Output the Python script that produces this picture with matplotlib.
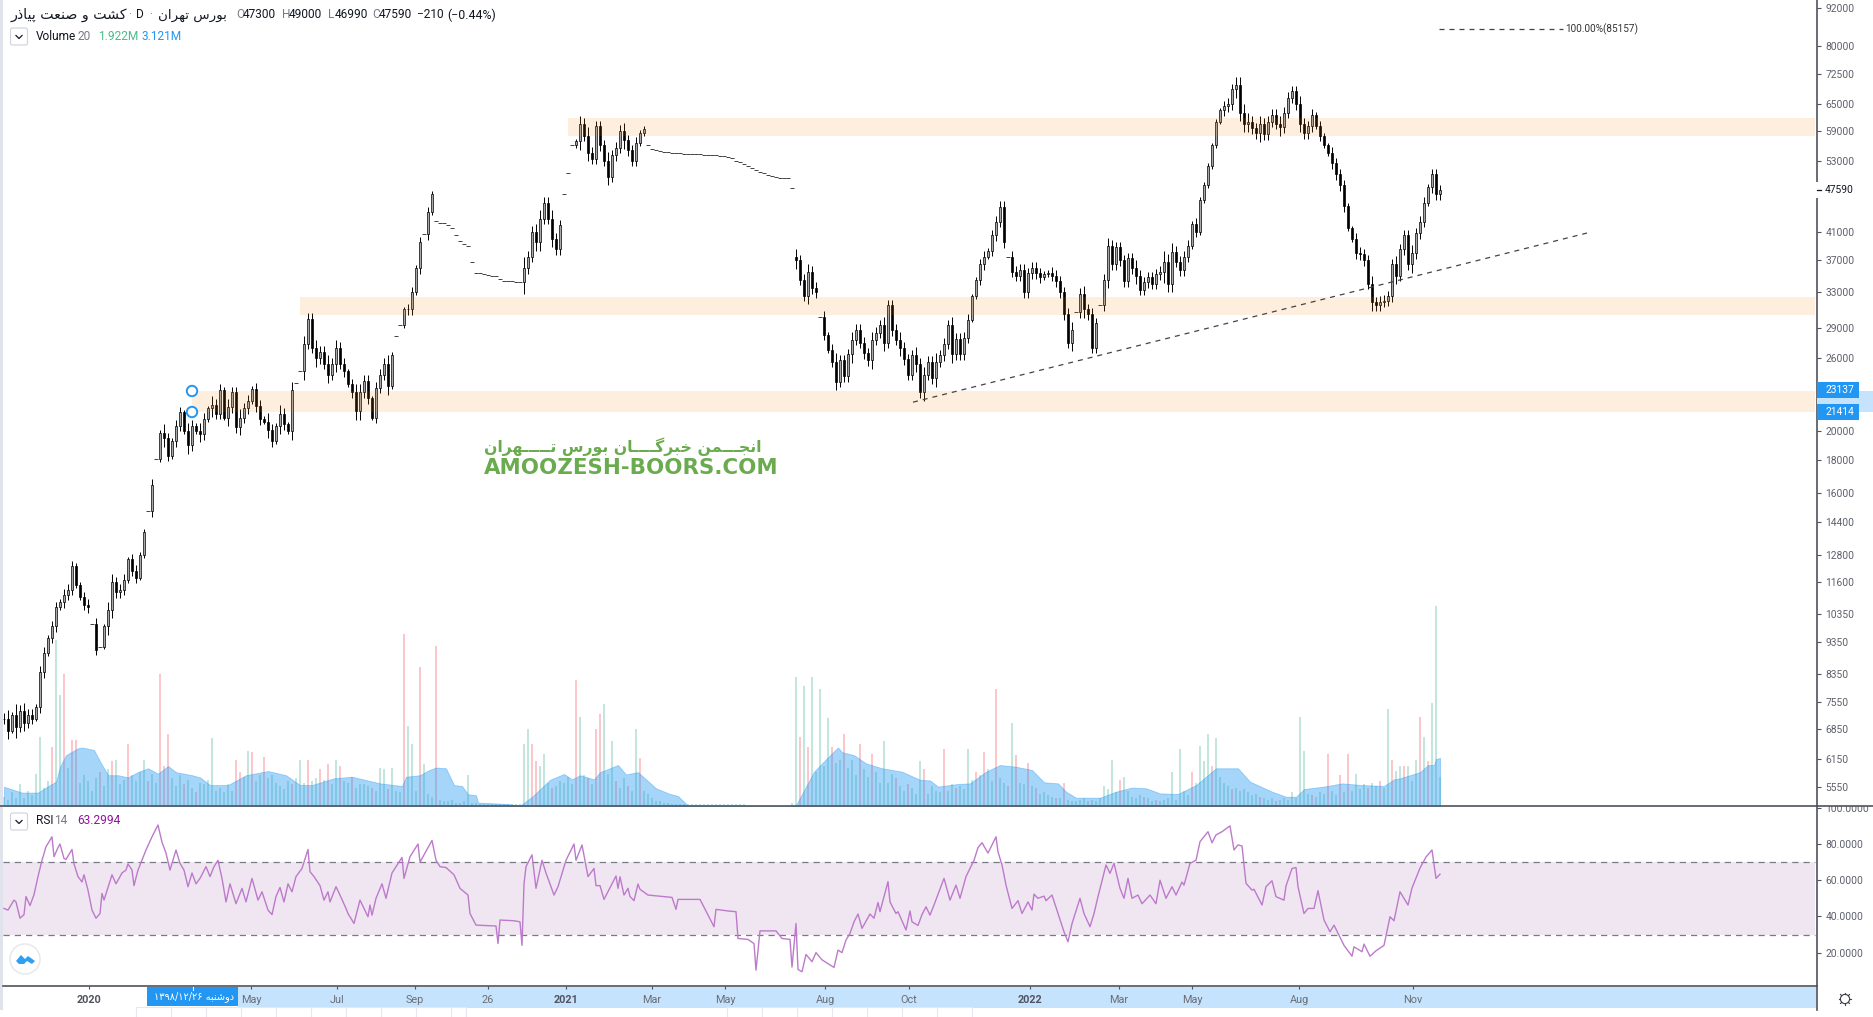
import matplotlib
matplotlib.use("Agg")
import matplotlib.pyplot as plt
import numpy as np
from matplotlib.lines import Line2D
from matplotlib.patches import Circle, FancyBboxPatch, Polygon, Rectangle
from matplotlib.ticker import NullLocator
from matplotlib.transforms import Affine2D

W, H = 1873, 1017
plt.rcParams["font.family"] = ["Roboto", "DejaVu Sans"]

# one candle every second session, the chart is too dense to read each one
closes = [
    7100, 6800, 7200, 6900, 7300, 7000, 7200, 7100, 7400, 8400,
    9000, 9500, 9900, 10600, 10800, 11100, 11300, 12300, 11500, 11000,
    10700, 10600, 10000, 9100, 9200, 9900, 10500, 11600, 11200, 11300,
    11700, 12600, 12100, 11800, 12800, 13900, 15000, 16500, 18100, 19900,
    19500, 18300, 19300, 20400, 21400, 20000, 19000, 20400, 20000, 19800,
    20900, 21700, 22000, 21300, 23200, 21000, 21800, 23000, 20300, 21000,
    21700, 22300, 23300, 21900, 20900, 20700, 20100, 19300, 20400, 21300,
    20500, 20000, 23200, 23800, 24800, 27400, 30000, 27000, 26000, 26600,
    25500, 24500, 25500, 27000, 25500, 24800, 23700, 23000, 21500, 23000,
    24000, 22500, 21000, 23400, 24500, 25500, 23500, 26300, 28200, 29300,
    31000, 31000, 33000, 36000, 39500, 40700, 44000, 47000, 42700, 42400,
    42300, 42000, 41500, 40600, 39700, 39300, 39000, 36800, 35400, 35300,
    35200, 35100, 35000, 35000, 34600, 34400, 34300, 34300, 34200, 34200,
    36000, 37500, 41000, 39500, 43000, 45500, 43000, 40000, 38500, 42000,
    47000, 50600, 56000, 56800, 60500, 58000, 54500, 53400, 60000, 56000,
    53000, 50000, 54000, 55500, 59000, 57000, 55000, 53000, 56500, 58500,
    59400, 56000, 55200, 55000, 54900, 54700, 54600, 54500, 54500, 54400,
    54300, 54300, 54200, 54200, 54200, 54100, 54100, 54000, 54000, 53900,
    53800, 53700, 53500, 53000, 52800, 52400, 52000, 51600, 51300, 50900,
    50600, 50300, 50100, 49900, 49800, 49700, 49700, 48000, 37000, 34500,
    32600, 35500, 33500, 33000, 30200, 28300, 26800, 25700, 23900, 25800,
    24400, 26400, 27800, 28800, 27500, 26500, 25800, 27800, 28500, 29300,
    27500, 31500, 28800, 27800, 27000, 25900, 24500, 26300, 25500, 23000,
    24500, 25700, 24200, 25700, 26300, 27400, 29300, 26400, 27900, 26400,
    28000, 29900, 32500, 34500, 36500, 37500, 38300, 40500, 42500, 44900,
    39500, 37500, 35500, 35000, 35800, 33000, 35300, 36000, 35300, 34800,
    35200, 35400, 35000, 34300, 33000, 30500, 27500, 28800, 30700, 32800,
    31000, 30500, 27000, 29500, 31500, 34500, 39000, 36500, 38800, 37000,
    34300, 37300, 36000, 35000, 33300, 34200, 34800, 34000, 35200, 35500,
    36800, 34000, 38200, 36800, 35700, 37500, 39000, 42200, 41000, 46000,
    48500, 52000, 56000, 61000, 63500, 64500, 65000, 68500, 69500, 63000,
    60500, 61000, 59500, 58500, 60500, 58300, 61000, 62500, 60500, 59800,
    63000, 66500, 68000, 65000, 60500, 58500, 60000, 62500, 60000, 58000,
    56000, 54500, 52500, 50500, 48500, 45000, 41500, 40000, 38000, 37800,
    37000, 34000, 31800, 31500, 31900, 32000, 32500, 36500, 35000, 38500,
    40500, 36500, 38000, 40800, 42500, 45500, 48200, 50500, 47000, 47590,
]
# wick length in percent of price, 0 means a single-price day (drawn as a dash)
wick_pct = [
    2, 3, 1, 4, 2, 3, 2, 2, 1, 2,
    2, 1, 2, 2, 1, 2, 2, 2, 1, 1,
    2, 2, 0, 2, 0, 1, 3, 3, 2, 2,
    2, 1, 2, 2, 1, 1, 0, 2, 0, 1,
    3, 2, 1, 2, 2, 1, 3, 2, 1, 3,
    2, 1, 3, 2, 2, 1, 3, 2, 2, 3,
    2, 2, 1, 2, 2, 1, 3, 2, 1, 3,
    2, 1, 3, 0, 0, 3, 2, 2, 3, 2,
    2, 3, 2, 3, 2, 2, 1, 2, 3, 3,
    2, 2, 1, 2, 2, 2, 3, 1, 0, 0,
    1, 2, 2, 1, 2, 0, 2, 1, 0, 0,
    0, 0, 0, 0, 0, 0, 0, 0, 0, 0,
    0, 0, 0, 0, 0, 0, 0, 0, 0, 0,
    4, 2, 2, 3, 3, 2, 2, 3, 2, 2,
    0, 0, 0, 1, 3, 2, 3, 2, 2, 2,
    2, 3, 2, 2, 2, 3, 2, 2, 2, 1,
    1, 0, 0, 0, 0, 0, 0, 0, 0, 0,
    0, 0, 0, 0, 0, 0, 0, 0, 0, 0,
    0, 0, 0, 0, 0, 0, 0, 0, 0, 0,
    0, 0, 0, 0, 0, 0, 0, 0, 3, 2,
    2, 3, 2, 2, 0, 2, 1, 2, 3, 2,
    2, 2, 3, 2, 2, 2, 2, 3, 2, 2,
    3, 2, 2, 2, 3, 2, 2, 2, 3, 2,
    3, 2, 2, 3, 2, 2, 2, 3, 2, 2,
    2, 2, 1, 1, 2, 2, 1, 2, 2, 2,
    2, 0, 2, 2, 2, 2, 2, 2, 2, 2,
    1, 1, 2, 2, 2, 2, 2, 3, 0, 2,
    3, 2, 2, 2, 0, 2, 3, 2, 2, 2,
    2, 2, 2, 3, 2, 2, 2, 2, 2, 2,
    4, 3, 3, 2, 2, 2, 2, 1, 2, 1,
    1, 1, 1, 1, 1, 2, 2, 2, 3, 3,
    3, 3, 2, 2, 3, 2, 2, 2, 2, 3,
    2, 2, 2, 2, 3, 2, 2, 2, 1, 2,
    1, 1, 2, 2, 2, 2, 1, 1, 2, 2,
    2, 2, 3, 2, 2, 2, 2, 2, 3, 2,
    2, 2, 3, 2, 2, 2, 1, 2, 2, 2,
]
gap_opens = {198: 37400}

# volume in millions, same sessions as the candles
volumes = [
    0.6, 0.4, 0.9, 0.5, 1.4, 0.5, 1.0, 0.7, 2.1, 4.5,
    1.2, 1.6, 3.8, 10.8, 7.2, 8.6, 2.5, 4.3, 4.3, 1.5,
    2.0, 1.6, 1.0, 1.8, 2.2, 1.3, 2.4, 2.9, 3.0, 1.4,
    1.7, 4.0, 2.0, 1.6, 2.2, 3.0, 1.6, 2.1, 1.5, 8.6,
    2.6, 4.7, 1.8, 1.3, 2.0, 1.4, 1.7, 1.2, 0.9, 1.5,
    1.4, 1.7, 4.4, 1.0, 1.2, 0.9, 1.4, 1.0, 3.0, 2.2,
    1.9, 3.6, 3.5, 1.6, 2.0, 3.2, 1.8, 2.0, 1.5, 1.3,
    1.1, 1.6, 1.4, 1.8, 3.0, 1.5, 3.0, 1.6, 1.8, 2.4,
    1.7, 2.7, 1.4, 3.0, 2.6, 1.6, 1.5, 1.9, 1.2, 1.4,
    1.4, 1.3, 1.2, 1.0, 2.5, 2.4, 1.1, 2.5, 1.0, 0.9,
    11.2, 5.2, 4.0, 1.0, 9.0, 2.7, 0.8, 0.6, 10.4, 0.4,
    0.3, 0.3, 0.4, 0.2, 0.2, 0.3, 2.0, 0.2, 0.2, 0.1,
    0.1, 0.1, 0.1, 0.1, 0.1, 0.1, 0.1, 0.1, 0.1, 0.1,
    4.0, 5.0, 4.0, 2.9, 2.6, 3.4, 1.5, 1.2, 1.3, 1.6,
    1.5, 1.9, 1.4, 8.2, 5.8, 2.0, 1.8, 1.4, 5.0, 6.0,
    6.6, 2.1, 4.2, 1.6, 1.2, 1.8, 1.3, 1.0, 5.0, 3.1,
    1.0, 0.8, 0.5, 0.3, 0.3, 0.2, 0.2, 0.1, 0.1, 0.1,
    0.1, 0.1, 0.1, 0.1, 0.1, 0.1, 0.1, 0.1, 0.1, 0.1,
    0.1, 0.1, 0.1, 0.1, 0.1, 0.1, 0.0, 0.0, 0.0, 0.0,
    0.0, 0.0, 0.0, 0.0, 0.0, 0.0, 0.0, 0.2, 8.4, 4.5,
    7.8, 3.8, 8.4, 2.2, 7.6, 2.6, 5.7, 3.8, 2.8, 3.0,
    4.7, 2.5, 3.0, 2.0, 4.0, 2.4, 1.9, 3.4, 2.2, 1.5,
    4.2, 1.5, 2.1, 1.8, 1.3, 1.0, 1.4, 1.2, 0.8, 2.9,
    2.4, 0.8, 1.3, 1.0, 0.9, 3.7, 1.0, 1.4, 1.2, 1.3,
    1.1, 3.7, 1.7, 2.2, 2.0, 3.5, 2.4, 1.6, 7.6, 1.8,
    1.5, 1.3, 5.4, 3.3, 1.5, 1.4, 2.8, 1.3, 1.2, 0.8,
    0.9, 0.7, 0.6, 0.5, 0.5, 1.5, 0.4, 0.3, 0.3, 0.4,
    0.5, 0.3, 0.4, 0.3, 0.5, 1.3, 1.1, 3.0, 0.9, 1.7,
    1.9, 1.0, 0.6, 0.5, 0.7, 0.6, 0.5, 0.3, 0.4, 0.3,
    0.4, 0.5, 2.2, 0.4, 3.7, 1.0, 0.7, 2.2, 1.5, 3.9,
    2.9, 4.7, 2.6, 4.4, 1.9, 1.5, 1.3, 1.1, 1.2, 1.0,
    1.1, 0.9, 0.7, 0.8, 0.6, 0.5, 0.4, 0.5, 0.3, 0.4,
    0.5, 0.4, 0.9, 0.5, 5.8, 3.6, 0.8, 0.7, 0.6, 0.9,
    0.8, 3.4, 1.0, 0.7, 2.0, 0.9, 3.4, 1.0, 2.1, 1.1,
    1.4, 1.2, 1.5, 1.3, 1.6, 1.2, 6.3, 3.0, 2.3, 2.6,
    2.6, 2.6, 1.6, 3.0, 5.8, 4.5, 2.9, 6.7, 13.0, 1.9,
]
red_volume_bars = [
    12, 15, 17, 18, 24, 27, 31, 36, 39, 40, 41, 45, 48, 58, 59, 62, 65, 72, 76,
    79, 81, 84, 87, 92, 96, 100, 104, 108, 132, 133, 137, 143, 146, 148, 149,
    153, 156, 159, 199, 201, 207, 210, 214, 217, 223, 226, 230, 235, 238, 243,
    245, 248, 251, 253, 256, 258, 263, 265, 271, 279, 285, 288, 297, 302, 307,
    314, 318, 327, 331, 334, 336, 341, 344, 347, 350, 354, 356,
]

ma_sessions = [
    2, 11, 19, 25, 28, 30, 33, 39, 41, 47, 50, 54, 59, 64, 69, 74, 79, 84, 88,
    96, 100, 105, 114, 123, 134, 143, 150, 156, 167, 176, 190, 201, 203, 210,
    214, 218, 223, 227, 231, 234, 238, 239, 254, 260, 266, 275, 282, 286, 290,
    297, 300, 309, 313, 319, 328, 335, 339, 344, 395, 398, 403, 407, 415, 419,
    421, 427, 433, 441, 451, 460, 465, 469, 479, 485, 493, 500, 508, 516, 522,
    529, 533, 538, 550, 558, 566, 573, 580, 589, 598, 608, 619, 625, 636, 643,
    648, 652, 662, 671, 681, 692, 697, 700, 710, 714, 717, 718, 720,
]
ma_values = [
    1.25, 0.87, 0.87, 1.36, 1.58, 2.55, 3.3, 3.75, 3.8, 3.64, 2.9, 2.0, 2.0, 1.86, 2.2, 2.45, 2.1, 2.6, 2.2,
    2.0, 1.86, 1.36, 1.36, 2.0, 2.27, 2.0, 1.36, 1.36, 1.8, 1.9, 1.47, 1.3, 1.9, 2.0,
    2.3, 2.5, 2.45, 1.36, 1.3, 0.76, 0.7, 0.22, 0.13, 0.02, 0.6, 1.7, 2.08, 1.73, 2.0,
    1.73, 2.2, 2.66, 2.05, 2.2, 1.15, 0.78, 0.65, 0.02, 0.0, 0.06, 1.26, 2.23, 3.3, 3.8,
    3.5, 3.3, 2.77, 2.45, 2.23, 1.7, 1.66, 1.26, 1.43, 1.47, 2.23, 2.66, 2.55, 2.34, 1.54,
    1.47, 0.93, 0.54, 0.54, 0.93, 1.2, 1.15, 0.82, 0.78, 1.36, 2.45, 2.45, 1.58, 0.93, 0.6,
    0.6, 1.1, 1.26, 1.47, 1.36, 1.3, 1.73, 1.8, 2.2, 2.66, 2.66, 3.05, 3.12,
]

rsi_sessions = [
    2, 4, 7, 8, 10, 12, 13, 15, 17, 19, 21, 23, 26, 27, 29, 30, 32, 33, 36, 37, 39, 41, 42, 44, 46, 48, 50, 51, 52, 54,
    56, 58, 61, 63, 64, 66, 67, 69, 73, 76, 79, 81, 83, 85, 88, 90, 92, 94, 96, 98, 100, 103, 105, 107, 109, 111, 113,
    115, 118, 121, 123, 126, 129, 131, 134, 136, 138, 140, 142, 144, 146, 148, 151, 154, 155, 157, 160, 162, 164, 165,
    168, 170, 173, 174, 177, 180, 182, 184, 185, 186, 188, 191, 193, 196, 201, 202, 205, 209, 210, 216, 218, 220, 223,
    227, 230, 234, 235, 238, 248, 249, 250, 257, 260, 261, 262, 263, 266, 268, 271, 273, 277, 279, 283, 287, 288, 291,
    294, 297, 298, 300, 302, 308, 309, 310, 312, 314, 315, 317, 319, 320, 324, 336, 338, 339, 350,
    357, 358, 364, 368, 369, 374, 377, 378, 380, 388, 391, 395, 396, 398, 399, 401, 403, 406, 408, 411, 417, 419, 421,
    423, 425, 427, 429, 431, 435, 437, 439, 440, 444, 445, 448, 449, 453, 455, 456, 459, 461, 463, 465, 467, 472, 475,
    478, 480, 483, 487, 489, 491, 494, 498, 499, 501, 503, 506, 509, 511, 514, 516, 517, 519, 522, 523, 526, 529, 532,
    534, 536, 540, 542, 545, 547, 549, 553, 555, 557, 560, 562, 564, 566, 569, 571, 575, 578, 580, 583, 586, 588, 591,
    592, 595, 598, 600, 604, 606, 608, 611, 615, 617, 619, 621, 623, 626, 627, 631, 633, 636, 638, 642, 643, 646, 648,
    649, 652, 654, 657, 659, 662, 665, 667, 672, 676, 677, 681, 682, 685, 688, 692, 695, 697, 700, 704, 706, 710, 713,
    716, 718, 720,
]
rsi_values = [
    44.4, 43.5, 49, 48, 39, 41, 51, 46, 52, 62, 71, 78.5, 84, 73, 78, 80, 72, 71.5, 77, 69, 62, 59, 63, 54.5, 43.5, 39, 41.6, 52.7, 49, 56,
    63, 58, 64, 65.6, 69, 65.6, 57, 65.6, 76.7, 84, 90.5, 81, 75, 65.6, 76.7, 69.3, 65.6, 56.4, 64, 58, 61, 67.5, 62, 67.5, 71, 61, 48,
    58, 47, 55.5, 48, 61, 49, 53.6, 43.5, 41, 51, 56, 48, 58, 53.6, 62, 66.5, 77, 64.7, 62, 57, 49, 53.6, 48,
    56.4, 51.8, 44.4, 41.6, 36.1, 49, 44.4, 39.8, 46.3, 40.7, 50, 58, 50, 64, 72.6, 61, 73, 80, 70, 82, 71, 67.5, 67,
    63, 55.5, 51.8, 41.6, 35.2, 34.7, 25, 38, 37.6, 37, 24, 58, 67.5, 74, 55.5, 71, 64, 51.8, 56.4, 71, 80, 71, 79.5,
    62, 66.5, 57, 57, 49.4, 62.3, 55.5, 61.9, 51.8, 55.5, 51, 48.7, 57.9, 55, 51.8, 50.5, 43.9, 49.4, 49.4,
    34.3, 43.9, 43, 42.6, 27.8, 27.3, 25, 10.3, 32, 32, 27.8, 27.3, 12, 36.1, 10.7, 9.4, 19, 15, 20, 16, 11.8, 21.4, 20,
    27, 30.6, 37, 41.3, 33.4, 41.3, 39, 47.7, 42.6, 59.2, 48, 41.6, 42.6, 32.5, 43, 37, 35, 41, 45.3, 40.7, 46.3, 61, 49,
    57.3, 50, 62, 71, 78, 80.7, 75, 84, 75.7, 68.4, 57.3, 44.4, 48.7, 41.6, 48, 43.5, 52.3, 50, 51.2, 48.7, 51.8, 41.6, 31.5,
    26, 36, 50, 41.6, 34.3, 41.6, 50.9, 68.4, 63.8, 69.3, 55.5, 50, 61, 50, 51.8, 47, 51.8, 47, 60, 50, 56.4, 51.8, 59,
    57.3, 69.3, 71, 81.3, 86.8, 80.7, 85, 86.8, 90, 76.7, 79.5, 78.9, 58.3, 54.5, 55, 46.3, 56.4, 59.7, 50.9, 49, 56.8, 66.5, 67,
    56.4, 41.6, 44.4, 44.4, 54.2, 38, 31.5, 35.2, 24, 18, 23.2, 20.5, 24.7, 18, 21, 24, 39.8, 37.6, 53.6, 46.3, 55.7, 66.7, 72.8,
    76.7, 61, 63.3,
]

price_ticks = [92000, 80000, 72500, 65000, 59000, 53000, 41000, 37000, 33000, 29000, 26000, 20000, 18000, 16000,
               14400, 12800, 11600, 10350, 9350, 8350, 7550, 6850, 6150, 5550]
rsi_ticks = [100, 80, 60, 40, 20]
time_ticks = [44.5, 125.5, 168.5, 207.5, 244, 283, 326, 362.5, 412.5, 454.5, 515, 559.5, 596, 649.5, 706.5]
time_labels = ["2020", "May", "Jul", "Sep", "26", "2021", "Mar", "May", "Aug", "Oct", "2022", "Mar", "May", "Aug", "Nov"]

zone_starts = [284, 150, 96]
zone_tops = [61750, 32430, 23137]
zone_bottoms = [57900, 30390, 21414]
trend_sessions = [456.5, 793.5]
trend_prices = [22200, 40830]
fib_sessions = [719.5, 781.5]
fib_price = 85157

FORMS = {
    "ا": "\ufe8d\ufe8e", "د": "\ufea9\ufeaa", "ذ": "\ufeab\ufeac", "ر": "\ufead\ufeae", "و": "\ufeed\ufeee",
    "ب": "\ufe8f\ufe90\ufe91\ufe92", "پ": "\ufb56\ufb57\ufb58\ufb59", "ت": "\ufe95\ufe96\ufe97\ufe98",
    "ج": "\ufe9d\ufe9e\ufe9f\ufea0", "خ": "\ufea5\ufea6\ufea7\ufea8", "س": "\ufeb1\ufeb2\ufeb3\ufeb4",
    "ش": "\ufeb5\ufeb6\ufeb7\ufeb8", "ص": "\ufeb9\ufeba\ufebb\ufebc", "ع": "\ufec9\ufeca\ufecb\ufecc",
    "ک": "\ufb8e\ufb8f\ufb90\ufb91", "گ": "\ufb92\ufb93\ufb94\ufb95", "م": "\ufee1\ufee2\ufee3\ufee4",
    "ن": "\ufee5\ufee6\ufee7\ufee8", "ه": "\ufee9\ufeea\ufeeb\ufeec", "ی": "\ufbfc\ufbfd\ufbfe\ufbff",
    "ـ": "\u0640\u0640\u0640\u0640",
}


# matplotlib has no bidi or shaping, so pick the joined glyphs and reverse by hand
def shape(text):
    out = []
    for i, ch in enumerate(text):
        forms = FORMS.get(ch)
        if forms is None:
            out.append(ch)
            continue
        prev_joins = i > 0 and text[i - 1] in FORMS and len(FORMS[text[i - 1]]) == 4
        next_joins = i + 1 < len(text) and text[i + 1] in FORMS and len(forms) == 4
        if prev_joins and next_joins:
            out.append(forms[3])
        elif prev_joins:
            out.append(forms[1])
        elif next_joins:
            out.append(forms[2])
        else:
            out.append(forms[0])
    return "".join(reversed(out))


closes_arr = np.array(closes, dtype=float)
wicks = np.array(wick_pct, dtype=float) / 100
sessions = np.arange(len(closes)) * 2 + 2
assert len(closes) == len(wick_pct) == len(volumes)
assert len(ma_sessions) == len(ma_values) and len(rsi_sessions) == len(rsi_values)
opens = np.r_[closes_arr[0], closes_arr[:-1]]
for bar, value in gap_opens.items():
    opens[bar] = value
flat = wicks == 0
opens[flat] = closes_arr[flat]
highs = np.maximum(opens, closes_arr) * (1 + wicks)
lows = np.minimum(opens, closes_arr) * (1 - wicks)

fig = plt.figure(figsize=(W / 100, H / 100), dpi=100, facecolor="white")
px = Affine2D().scale(1, -1).translate(0, H)  # furniture is placed in screen pixels


def axes_rect(x0, y0, x1, y1):
    return [x0 / W, 1 - y1 / H, (x1 - x0) / W, (y1 - y0) / H]


def box(x0, y0, x1, y1, color, z=-1):
    fig.add_artist(Rectangle((x0, y0), x1 - x0, y1 - y0, transform=px, facecolor=color, edgecolor="none", zorder=z))


def line(xs, ys, color="#50535e", lw=1.2, z=6):
    fig.add_artist(Line2D(xs, ys, transform=px, color=color, lw=lw, zorder=z))


def label(x, y, s, color="#131722", size=8.6, z=7, **kw):
    fig.text(x / W, 1 - y / H, s, color=color, fontsize=size, va="center", ha=kw.pop("ha", "left"), zorder=z, **kw)


box(0, 0, 3, 1010, "#e0e3eb")
box(147, 987, 238, 1006, "#2196f3")
box(238, 987, 1816, 1008, "#c5e3fc")

# bottom toolbars cut off by the screenshot
for x0, x1, step in [(136, 466, 35), (727, 972, 35)]:
    fig.add_artist(Rectangle((x0, 1007), x1 - x0, 12, transform=px, facecolor="white", edgecolor="#e6e8ee", lw=0.8, zorder=0))
    for x in range(x0 + step, x1, step):
        line([x, x], [1008, 1017], color="#e6e8ee", lw=0.8, z=0)

# volume pane shares the price pane's rectangle
ax_vol = fig.add_axes(axes_rect(3, 0, 1817, 806), zorder=1)
ax_vol.set_xlim(1.5, 908.5)
ax_vol.set_ylim(0, 806 / 15.4)
ax_vol.axis("off")
vol_colors = ["#26a682"] * len(volumes)
for bar in red_volume_bars:
    vol_colors[bar] = "#f23645"
ax_vol.bar(sessions, volumes, width=1.4, color=vol_colors, alpha=0.28, linewidth=0)
ax_vol.fill_between(ma_sessions, ma_values, 0, color="#2196f3", alpha=0.4, linewidth=0.6)

ax = fig.add_axes(axes_rect(3, 0, 1817, 806), zorder=2)
ax.patch.set_alpha(0)
ax.set_yscale("log")
ax.set_xlim(1.5, 908.5)
ax.set_ylim(5183, 94520)
for side in ["top", "left", "bottom"]:
    ax.spines[side].set_visible(False)
ax.spines["right"].set_color("#50535e")
ax.spines["right"].set_linewidth(1.2)
ax.yaxis.tick_right()
ax.set_yticks(price_ticks, [str(t) for t in price_ticks])
ax.yaxis.set_minor_locator(NullLocator())
ax.tick_params(axis="y", length=2.9, width=0.8, color="#50535e", labelcolor="#5d606b", labelsize=7.4, pad=3)
ax.set_xticks([])

solid = ~flat
up = solid & (closes_arr >= opens)
down = solid & (closes_arr < opens)
ax.vlines(sessions[solid], lows[solid], highs[solid], color="black", lw=0.7, zorder=2)
ax.bar(sessions[up], (closes_arr - opens)[up], bottom=opens[up], width=1.3, facecolor="#a8a8a8", edgecolor="black", lw=0.5, zorder=3)
ax.bar(sessions[down], (opens - closes_arr)[down], bottom=closes_arr[down], width=1.3, facecolor="black", edgecolor="black", lw=0.5, zorder=3)
ax.hlines(closes_arr[flat], sessions[flat] - 0.9, sessions[flat] + 0.9, color="#222222", lw=0.6, zorder=3)

for start, top, bottom in zip(zone_starts, zone_tops, zone_bottoms):
    ax.fill_between([start, 907.5], top, bottom, color="#f57c00", alpha=0.13, linewidth=0, zorder=5)
ax.plot(trend_sessions, trend_prices, color="#444444", lw=0.9, ls=(0, (4, 4)), zorder=6)
ax.plot(fib_sessions, [fib_price, fib_price], color="#444444", lw=0.9, ls=(0, (4, 4)), zorder=6)
ax.text(782.5, fib_price, "100.00%(85157)", fontsize=7.2, color="#333333", va="center")

# rsi pane
ax_rsi = fig.add_axes(axes_rect(3, 806, 1817, 986), zorder=2)
ax_rsi.patch.set_alpha(0)
ax_rsi.set_xlim(1.5, 908.5)
ax_rsi.set_ylim(1.55, 101)
for side in ["top", "left"]:
    ax_rsi.spines[side].set_visible(False)
ax_rsi.spines["right"].set_color("#50535e")
ax_rsi.spines["right"].set_linewidth(1.2)
ax_rsi.spines["bottom"].set_color("#50535e")
ax_rsi.spines["bottom"].set_linewidth(1.2)
ax_rsi.yaxis.tick_right()
ax_rsi.set_yticks(rsi_ticks, [f"{t:.4f}" for t in rsi_ticks])
ax_rsi.tick_params(axis="y", length=2.9, width=0.8, color="#50535e", labelcolor="#5d606b", labelsize=7.4, pad=3)
ax_rsi.set_xticks(time_ticks, time_labels)
ax_rsi.tick_params(axis="x", length=2.4, width=0.8, color="#50535e", labelcolor="#6b6e78", labelsize=7.8, pad=4)
for tick_label in ax_rsi.get_xticklabels():
    if tick_label.get_text() in ("2020", "2021", "2022"):
        tick_label.set_color("#50535e")
        tick_label.set_fontweight("bold")
ax_rsi.fill_between([1.5, 907.5], 30, 70, color="#f0e6f2", linewidth=0, zorder=1)
for level in (70, 30):
    ax_rsi.plot([1.5, 907.5], [level, level], color="#787b86", lw=0.9, ls=(0, (5, 4)), zorder=2)
ax_rsi.plot(rsi_sessions, rsi_values, color="#bd7acb", lw=1.0, zorder=3)

# separator and the clipped 100.0000 label
box(1818, 796, 1873, 806, "white", z=5)
line([0, 1873], [806, 806], lw=1.2)
line([1817, 1817], [986, 1010], lw=1.2)
box(1815, 182, 1820, 198, "white", z=5)
line([1817, 1821], [190, 190], color="#131722", lw=0.9)
label(1825, 190, "47590", color="#131722", size=7.4)

# crosshair-like price range labels
box(1817, 390.5, 1873, 412, "#c5e3fc", z=5)
box(1817, 382, 1859, 398, "#2196f3", z=6)
box(1817, 404, 1859, 420, "#2196f3", z=6)
label(1825, 390, "23137", color="white", size=7.4)
label(1825, 412, "21414", color="white", size=7.4)

for cy in (391, 412):
    fig.add_artist(Circle((192, cy), 5.2, transform=px, facecolor="white", edgecolor="#2196f3", lw=1.4, zorder=6))

# legends
label(11, 15, shape("کشت و صنعت پیاذر"), family=["DejaVu Sans"], size=10.2)
label(128, 15, "·", color="#787b86")
label(136, 15, "D")
label(149, 15, "·", color="#787b86")
label(158, 15, shape("بورس تهران"), family=["DejaVu Sans"], size=9.6)
ohlc_x = [(236, "O", "47300"), (282, "H", "49000"), (328, "L", "46990"), (372, "C", "47590")]
for x, letter, value in ohlc_x:
    label(x, 15, letter, color="#787b86")
    label(x + 7, 15, value)
label(417, 15, "−210")
label(447, 15, "(−0.44%)", size=8.9)
label(36, 36, "Volume", size=8.6)
label(64 + 14, 36, "20", color="#787b86", size=8.6)
label(98, 36, "1.922M", color="#4cbb8a", size=8.6)
label(142, 36, "3.121M", color="#2196f3", size=8.6)
label(36, 820, "RSI", size=8.6)
label(54, 820, "14", color="#787b86", size=8.6)
label(77, 820, "63.2994", color="#8e1599", size=8.6)

for top in (28, 813):
    fig.add_artist(FancyBboxPatch((10.5, top), 17, 17, boxstyle="round,pad=0,rounding_size=2", transform=px,
                                  facecolor="white", edgecolor="#cfd2da", lw=0.8, zorder=6))
    line([16, 19, 22], [top + 7.5, top + 10.5, top + 7.5], color="#131722", lw=0.9, z=7)

# tradingview badge
fig.add_artist(Circle((25, 959), 15, transform=px, facecolor="white", edgecolor="#e9eaee", lw=1.2, zorder=6))
fig.add_artist(Polygon([(16, 961), (21, 955), (25, 959), (28, 956), (35, 961), (32, 964), (27, 961), (24, 964), (19, 964)],
                       transform=px, facecolor="#2f9ff0", edgecolor="none", zorder=7))

# gear in the scale corner
fig.add_artist(Circle((1845, 999), 4.6, transform=px, facecolor="white", edgecolor="#3a3d46", lw=0.8, zorder=6))
for a in np.deg2rad(np.arange(0, 360, 45)):
    line([1845 + 4.6 * np.cos(a), 1845 + 6.4 * np.cos(a)], [999 + 4.6 * np.sin(a), 999 + 6.4 * np.sin(a)], color="#3a3d46", lw=0.8)

# selected date on the time scale
line([193, 193], [987, 990], color="white", lw=0.8)
label(154, 996.5, "۱۳۹۸/۱۲/۲۶ " + shape("دوشنبه"), color="white", size=7, family=["DejaVu Sans"])

# watermark
label(484, 447, shape("انجـــمن خبرگــــان بورس تـــــهران"), color="#6aab4f", size=11.3,
      family=["DejaVu Sans"], fontweight="bold", z=3)
label(484, 468, "AMOOZESH-BOORS.COM", color="#6aab4f", size=15.4, family=["DejaVu Sans"], fontweight="bold", z=3)

fig.savefig("out.png", dpi=100)
